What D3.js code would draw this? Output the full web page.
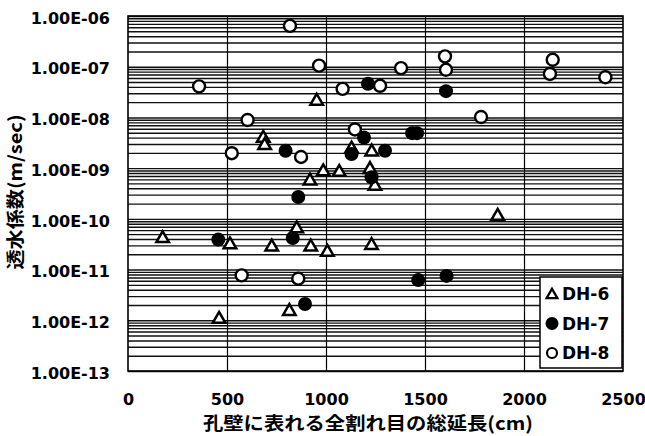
<!DOCTYPE html>
<html>
<head>
<meta charset="utf-8">
<script src="https://cdn.jsdelivr.net/npm/d3@7"></script>
<style>
  body { margin: 0; background: #fff; }
  svg { display: block; }
</style>
</head>
<body>
<svg id="chart" width="645" height="436"></svg>
<script>
// Axis ticks
const xTickValues = [0, 500, 1000, 1500, 2000, 2500];
const yTickValues = [1e-13, 1e-12, 1e-11, 1e-10, 1e-9, 1e-8, 1e-7, 1e-6];
const xGridValues = [500, 1000, 1500, 2000];

// Series: total fracture length on borehole wall (cm) vs. hydraulic conductivity (m/sec)
const seriesNames = ["DH-6", "DH-7", "DH-8"];

const dh6Length = [175, 460, 515, 683, 690, 726, 815, 852, 919, 923, 953, 986, 1007, 1067, 1129, 1222, 1231, 1230, 1247, 1867];
const dh6K      = [4.1e-11, 1.05e-12, 3.1e-11, 3.9e-9, 2.8e-9, 2.8e-11, 1.5e-12, 6.4e-11, 5.6e-10, 2.8e-11,
                   2.1e-8, 8.5e-10, 2.2e-11, 8.3e-10, 2.4e-9, 9.5e-10, 2.1e-9, 3.0e-11, 4.4e-10, 1.13e-10];

const dh7Length = [456, 796, 832, 860, 894, 1129, 1192, 1212, 1230, 1298, 1435, 1460, 1466, 1606, 1609];
const dh7K      = [3.9e-11, 2.2e-9, 4.2e-11, 2.7e-10, 2.1e-12, 1.9e-9, 4.0e-9, 4.6e-8, 6.6e-10, 2.2e-9,
                   4.9e-9, 4.9e-9, 6.2e-12, 3.3e-8, 7.5e-12];

const dh8Length = [359, 524, 574, 604, 818, 860, 874, 965, 1084, 1146, 1273, 1379, 1601, 1606, 1783, 2131, 2145, 2411];
const dh8K      = [4.1e-8, 1.97e-9, 7.7e-12, 8.9e-9, 6.4e-7, 6.6e-12, 1.66e-9, 1.05e-7, 3.65e-8, 5.8e-9,
                   4.2e-8, 9.4e-8, 1.6e-7, 8.7e-8, 1.02e-8, 7.2e-8, 1.37e-7, 6.2e-8];

const xTitle = "孔壁に表れる全割れ目の総延長(cm)";
const yTitle = "透水係数(m/sec)";

const plot = { left: 128, right: 623, top: 16, bottom: 371 };
const svg = d3.select("#chart");

const x = d3.scaleLinear().domain([0, 2500]).range([plot.left, plot.right]);
const y = d3.scaleLog().domain([1e-13, 1e-6]).range([plot.bottom, plot.top]);

const latin = "'DejaVu Sans', 'Liberation Sans', Arial, sans-serif";
const cjk = "'Noto Sans CJK JP', 'Noto Sans CJK SC', sans-serif";

// Horizontal grid: every 1..9 multiple of each decade
const hGrid = svg.append("g")
  .attr("transform", `translate(${plot.left},0)`)
  .call(d3.axisLeft(y).tickValues(y.ticks()).tickSize(-(plot.right - plot.left)).tickFormat(""));
hGrid.select(".domain").remove();
hGrid.selectAll(".tick line").attr("stroke", "#111").attr("stroke-width", 1.4);

// Vertical grid
const vGrid = svg.append("g")
  .attr("transform", `translate(0,${plot.bottom})`)
  .call(d3.axisBottom(x).tickValues(xGridValues).tickSize(-(plot.bottom - plot.top)).tickFormat(""));
vGrid.select(".domain").remove();
vGrid.selectAll(".tick line").attr("stroke", "#000").attr("stroke-width", 1.2);

// Plot frame
svg.append("rect")
  .attr("x", plot.left).attr("y", plot.top)
  .attr("width", plot.right - plot.left).attr("height", plot.bottom - plot.top)
  .attr("fill", "none").attr("stroke", "#000").attr("stroke-width", 1.6);

// Y tick labels
const yFmt = d => "1.00E-" + String(-Math.round(Math.log10(d))).padStart(2, "0");
const yAxis = svg.append("g")
  .attr("transform", `translate(${plot.left - 18},0)`)
  .call(d3.axisLeft(y).tickValues(yTickValues).tickSize(0).tickPadding(0).tickFormat(yFmt));
yAxis.select(".domain").remove();
yAxis.selectAll("text")
  .attr("font-family", latin).attr("font-weight", "bold").attr("font-size", 16)
  .attr("fill", "#000").attr("dy", "0.45em");

// X tick labels
const xAxis = svg.append("g")
  .attr("transform", `translate(0,${plot.bottom + 24})`)
  .call(d3.axisBottom(x).tickValues(xTickValues).tickSize(0).tickPadding(0).tickFormat(d3.format("d")));
xAxis.select(".domain").remove();
xAxis.selectAll("text")
  .attr("font-family", latin).attr("font-weight", "bold").attr("font-size", 16)
  .attr("fill", "#000").attr("dy", "0.6em");

// Axis titles
svg.append("text")
  .attr("x", 368).attr("y", 430)
  .attr("text-anchor", "middle")
  .attr("font-family", cjk).attr("font-weight", "bold").attr("font-size", 18)
  .attr("textLength", 330).attr("lengthAdjust", "spacingAndGlyphs")
  .text(xTitle);

svg.append("text")
  .attr("transform", "translate(22,192) rotate(-90)")
  .attr("text-anchor", "middle")
  .attr("font-family", cjk).attr("font-weight", "bold").attr("font-size", 18)
  .attr("textLength", 155).attr("lengthAdjust", "spacingAndGlyphs")
  .text(yTitle);

// Markers
const triPath = d3.symbol(d3.symbolTriangle, 68)();
const zip = (xs, ys) => xs.map((v, i) => ({ len: v, k: ys[i] }));

const marks = svg.append("g");

marks.append("g").selectAll("path")
  .data(zip(dh6Length, dh6K))
  .join("path")
  .attr("d", triPath)
  .attr("transform", d => `translate(${x(d.len)},${y(d.k)})`)
  .attr("fill", "#fff").attr("stroke", "#000").attr("stroke-width", 2.5)
  .attr("stroke-linejoin", "miter");

marks.append("g").selectAll("circle")
  .data(zip(dh7Length, dh7K))
  .join("circle")
  .attr("cx", d => x(d.len)).attr("cy", d => y(d.k))
  .attr("r", 7).attr("fill", "#000");

marks.append("g").selectAll("circle")
  .data(zip(dh8Length, dh8K))
  .join("circle")
  .attr("cx", d => x(d.len)).attr("cy", d => y(d.k))
  .attr("r", 6).attr("fill", "#fff").attr("stroke", "#000").attr("stroke-width", 2.4);

// Legend
const legend = svg.append("g").attr("transform", "translate(540,277)");
legend.append("rect")
  .attr("width", 82).attr("height", 91)
  .attr("fill", "#fff").attr("stroke", "#000").attr("stroke-width", 1.5);

const rows = legend.selectAll("g.row")
  .data(seriesNames)
  .join("g")
  .attr("class", "row")
  .attr("transform", (d, i) => `translate(12,${17 + i * 29.5})`);

rows.each(function (d, i) {
  const g = d3.select(this);
  if (i === 0) {
    g.append("path").attr("d", d3.symbol(d3.symbolTriangle, 50)())
      .attr("transform", "translate(0,1)")
      .attr("fill", "#fff").attr("stroke", "#000").attr("stroke-width", 2.3);
  } else if (i === 1) {
    g.append("circle").attr("r", 6.5).attr("fill", "#000");
  } else {
    g.append("circle").attr("r", 5).attr("fill", "#fff").attr("stroke", "#000").attr("stroke-width", 2.2);
  }
  g.append("text")
    .attr("x", 10).attr("dy", "0.36em")
    .attr("font-family", latin).attr("font-weight", "bold").attr("font-size", 17)
    .attr("fill", "#000")
    .text(d);
});
</script>
</body>
</html>
